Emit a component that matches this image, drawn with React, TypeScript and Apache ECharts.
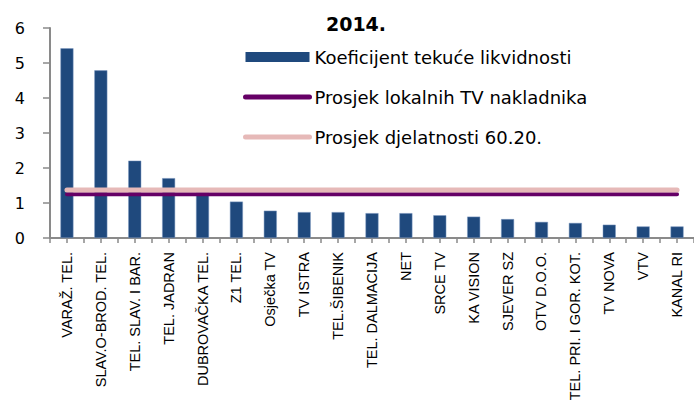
import React, { useEffect, useRef } from "react";
import * as echarts from "echarts";

const categories = [
  "VARAŽ. TEL.",
  "SLAV.O-BROD. TEL.",
  "TEL. SLAV. I BAR.",
  "TEL. JADRAN",
  "DUBROVAČKA TEL.",
  "Z1 TEL.",
  "Osječka TV",
  "TV ISTRA",
  "TEL.ŠIBENIK",
  "TEL. DALMACIJA",
  "NET",
  "SRCE TV",
  "KA VISION",
  "SJEVER SZ",
  "OTV D.O.O.",
  "TEL. PRI. I GOR. KOT.",
  "TV NOVA",
  "VTV",
  "KANAL RI",
];

const liquidity = [
  5.42, 4.79, 2.21, 1.71, 1.3, 1.04, 0.78, 0.74, 0.74, 0.71, 0.71, 0.65, 0.61,
  0.54, 0.46, 0.43, 0.38, 0.33, 0.33,
];

const localAverage = 1.25;
const sectorAverage = 1.37;

const yTicks = [0, 1, 2, 3, 4, 5, 6];

const seriesNames = [
  "Koeficijent tekuće likvidnosti",
  "Prosjek lokalnih TV nakladnika",
  "Prosjek djelatnosti 60.20.",
];

const title = "2014.";

const barColor = "#1f497d";
const localColor = "#660066";
const sectorColor = "#e6b9b8";

export default function App() {
  const ref = useRef<HTMLDivElement>(null);
  useEffect(() => {
    if (!ref.current) return;
    const chart = echarts.init(ref.current, undefined, { renderer: "svg" });
    const axisGray = "#8a8a8a";
    chart.setOption({
      animation: false,
      backgroundColor: "#ffffff",
      title: {
        text: title,
        left: 351,
        textAlign: "center",
        top: 9,
        textStyle: {
          fontFamily: "DejaVu Sans",
          fontWeight: "bold",
          fontSize: 19,
          color: "#000",
        },
      },
      legend: {
        orient: "vertical",
        left: 243,
        top: 46,
        itemWidth: 64,
        itemHeight: 10,
        itemGap: 18,
        padding: 0,
        data: [
          { name: seriesNames[0], icon: "rect", itemStyle: { borderWidth: 0 } },
          {
            name: seriesNames[1],
            itemStyle: { opacity: 0 },
            lineStyle: { width: 5, color: localColor, cap: "round" },
          },
          {
            name: seriesNames[2],
            itemStyle: { opacity: 0 },
            lineStyle: { width: 5, color: sectorColor, cap: "round" },
          },
        ],
        textStyle: {
          fontFamily: "DejaVu Sans",
          fontSize: 18,
          lineHeight: 22,
          color: "#000",
        },
      },
      grid: {
        left: 50,
        right: 0,
        top: 28,
        bottom: 167,
        containLabel: false,
      },
      xAxis: [
        {
          type: "category",
          data: categories,
          position: "bottom",
          axisLine: { lineStyle: { color: axisGray, width: 2 } },
          axisTick: { show: false },
          axisLabel: {
            interval: 0,
            rotate: 90,
            margin: 14,
            fontFamily: "Liberation Sans",
            fontSize: 14.5,
            color: "#000",
          },
        },
        {
          type: "value",
          position: "bottom",
          min: 0,
          max: categories.length,
          interval: 0.5,
          axisLine: { show: false },
          axisLabel: { show: false },
          splitLine: { show: false },
          axisTick: { show: true, length: 5, lineStyle: { color: axisGray, width: 1.5 } },
        },
      ],
      yAxis: {
        type: "value",
        min: yTicks[0],
        max: yTicks[yTicks.length - 1],
        interval: 1,
        axisLine: { show: true, lineStyle: { color: axisGray, width: 2 } },
        axisTick: { show: true, length: 7, lineStyle: { color: axisGray, width: 1.5 } },
        splitLine: { show: false },
        axisLabel: {
          margin: 25,
          fontFamily: "DejaVu Sans",
          fontSize: 16,
          color: "#000",
        },
      },
      series: [
        {
          name: seriesNames[0],
          type: "bar",
          xAxisIndex: 0,
          data: liquidity,
          barWidth: 13,
          itemStyle: { color: barColor, borderColor: "#7f9bc2", borderWidth: 0.5 },
        },
        {
          name: seriesNames[1],
          type: "line",
          xAxisIndex: 0,
          data: categories.map(() => localAverage),
          symbol: "none",
          showSymbol: false,
          lineStyle: { color: localColor, width: 4, cap: "round" },
          itemStyle: { color: localColor },
        },
        {
          name: seriesNames[2],
          type: "line",
          xAxisIndex: 0,
          data: categories.map(() => sectorAverage),
          symbol: "none",
          showSymbol: false,
          lineStyle: { color: sectorColor, width: 5, cap: "round" },
          itemStyle: { color: sectorColor },
        },
      ],
    });
    return () => chart.dispose();
  }, []);
  return (
    <div
      ref={ref}
      style={{ position: "fixed", left: 0, top: 0, width: 694, height: 405 }}
    />
  );
}
